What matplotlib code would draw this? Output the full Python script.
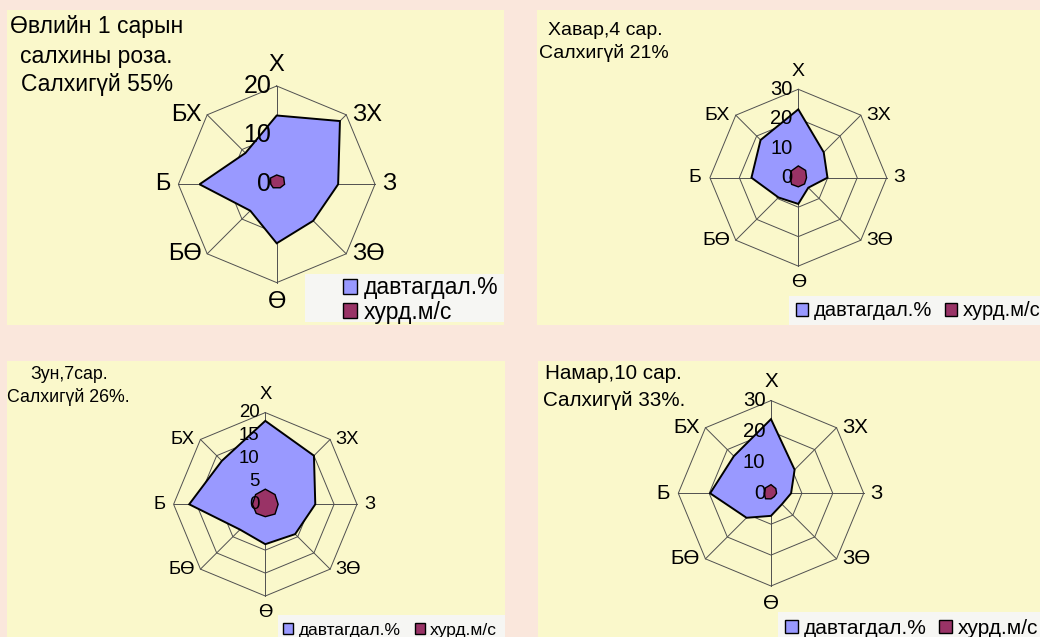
import numpy as np
import matplotlib.pyplot as plt
from matplotlib.patches import Rectangle, Patch

W, H = 1040, 637
PAGE = '#FAE7DC'
PANEL = '#FAF8CB'
BOX = '#F6F6F3'
FREQ_C = '#9999FF'
SPEED_C = '#993366'
FONT = ['Liberation Sans', 'DejaVu Sans']

# чиглэлүүд (цагийн зүүний дагуу, хойдоос)
directions = ['Х', 'ЗХ', 'З', 'ЗӨ', 'Ө', 'БӨ', 'Б', 'БХ']
legend_labels = ['давтагдал.%', 'хурд.м/с']

jan_freq = [14, 18.2, 12.5, 10.5, 12, 7.6, 15.7, 9]
jan_speed = [1.9, 2.0, 1.6, 1.0, 0.7, 1.0, 1.2, 1.8]
apr_freq = [23.2, 12.2, 9.9, 4.8, 8.9, 9.5, 15.9, 18.1]
apr_speed = [4.0, 3.5, 2.8, 3.0, 3.1, 3.2, 2.8, 3.3]
jul_freq = [18.2, 15, 10.9, 9.2, 8.7, 7.8, 16.6, 13.4]
jul_speed = [3.3, 3.0, 2.8, 3.0, 2.7, 2.8, 2.8, 3.0]
oct_freq = [24, 10.8, 6.5, 5, 7.3, 11.2, 19.7, 17]
oct_speed = [2.8, 2.2, 1.8, 1.5, 1.8, 2.5, 2.2, 2.5]

jan_title = ['Өвлийн 1 сарын', 'салхины роза.', 'Салхигүй 55%']
apr_title = ['Хавар,4 сар.', 'Салхигүй 21%']
jul_title = ['Зун,7сар.', 'Салхигүй 26%.']
oct_title = ['Намар,10 сар.', 'Салхигүй 33%.']

fig = plt.figure(figsize=(W / 100, H / 100), dpi=100, facecolor=PAGE)


def fx(x):
    return x / W


def fy(y):
    return 1 - y / H


def box(x0, y0, x1, y1, color, z):
    fig.patches.append(Rectangle((fx(x0), fy(y1)), (x1 - x0) / W, (y1 - y0) / H,
                                 transform=fig.transFigure, facecolor=color,
                                 edgecolor='none', zorder=z))


def rose(cx, cy, R, rmax, ticks, freq, speed, csize, tsize):
    k = 1.7
    h = R * k
    ax = fig.add_axes([fx(cx - h), fy(cy + h), 2 * h / W, 2 * h / H])
    ax.set_xlim(-k * rmax, k * rmax)
    ax.set_ylim(-k * rmax, k * rmax)
    ax.axis('off')
    ang = np.pi / 2 - np.arange(8) * np.pi / 4
    c, s = np.cos(ang), np.sin(ang)
    # сүлжээ
    for t in ticks[1:]:
        ax.plot(np.append(c, c[0]) * t, np.append(s, s[0]) * t, color='#505050', lw=0.7, zorder=1)
    for i in range(8):
        ax.plot([0, c[i] * rmax], [0, s[i] * rmax], color='#505050', lw=0.7, zorder=1)
    f = np.array(freq)
    ax.fill(c * f, s * f, facecolor=FREQ_C, edgecolor='black', lw=1.4, zorder=2)
    v = np.array(speed)
    ax.fill(c * v, s * v, facecolor=SPEED_C, edgecolor='black', lw=1.0, zorder=3)
    for t in ticks:
        ax.annotate(str(t), (0, t), xytext=(-4, 0), textcoords='offset points',
                    ha='right', va='center', fontsize=tsize, family=FONT, zorder=4)
    offs = [((0, 7), 'center', 'bottom'), ((4, 0), 'left', 'center'),
            ((5, 0), 'left', 'center'), ((4, 0), 'left', 'center'),
            ((0, -6), 'center', 'top'), ((-4, 0), 'right', 'center'),
            ((-6, 0), 'right', 'center'), ((-4, 0), 'right', 'center')]
    for i, d in enumerate(directions):
        o, ha, va = offs[i]
        ax.annotate(d, (c[i] * rmax, s[i] * rmax), xytext=o, textcoords='offset points',
                    ha=ha, va=va, fontsize=csize, family=FONT, annotation_clip=False)
    return ax


def titles(lines, xs, ys, size):
    for t, x, y in zip(lines, xs, ys):
        fig.text(fx(x), fy(y), t, ha='left', va='baseline', fontsize=size, family=FONT)


def legend(x, y, ncol, size, colsp=1.0):
    handles = [Patch(facecolor=FREQ_C, edgecolor='black', lw=1.0),
               Patch(facecolor=SPEED_C, edgecolor='black', lw=1.0)]
    lg = fig.legend(handles, legend_labels, loc='center left', bbox_to_anchor=(fx(x), fy(y)),
                    ncol=ncol, frameon=False, prop={'family': FONT, 'size': size},
                    handlelength=0.6, handleheight=0.6, handletextpad=0.3,
                    borderpad=0, borderaxespad=0, columnspacing=colsp, labelspacing=0.05)
    lg.set_zorder(6)


# панелууд
box(7, 10, 504, 325, PANEL, -5)
box(537, 10, 1040, 325, PANEL, -5)
box(7, 361, 505, 637, PANEL, -5)
box(538, 361, 1040, 637, PANEL, -5)

rose(276.7, 184.3, 98.3, 20, [0, 10, 20], jan_freq, jan_speed, 17, 18)
rose(798.3, 177.7, 88.4, 30, [0, 10, 20, 30], apr_freq, apr_speed, 14, 14.5)
rose(265.3, 504.3, 91.7, 20, [0, 5, 10, 15, 20], jul_freq, jul_speed, 13.3, 13.4)
rose(771, 493.3, 92.7, 30, [0, 10, 20, 30], oct_freq, oct_speed, 14.8, 14.7)

titles(jan_title, [10, 20, 21], [33, 63, 91], 16.5)
titles(apr_title, [548, 539], [35, 58], 14)
titles(jul_title, [30, 7], [379, 402], 12.8)
titles(oct_title, [545, 543], [379, 406], 14.9)

# тайлбарын хайрцаг
box(305, 274, 504, 322, BOX, 2)
box(789, 296, 1040, 325, BOX, 2)
box(278, 615, 505, 637, BOX, 2)
box(778, 612, 1040, 637, BOX, 2)

legend(343, 300, 1, 16.5)
legend(796, 311, 2, 14.5, 0.6)
legend(283, 630, 2, 12.5, 0.8)
legend(785, 628, 2, 15, 0.6)

fig.savefig('out.png', dpi=100, facecolor=PAGE)
